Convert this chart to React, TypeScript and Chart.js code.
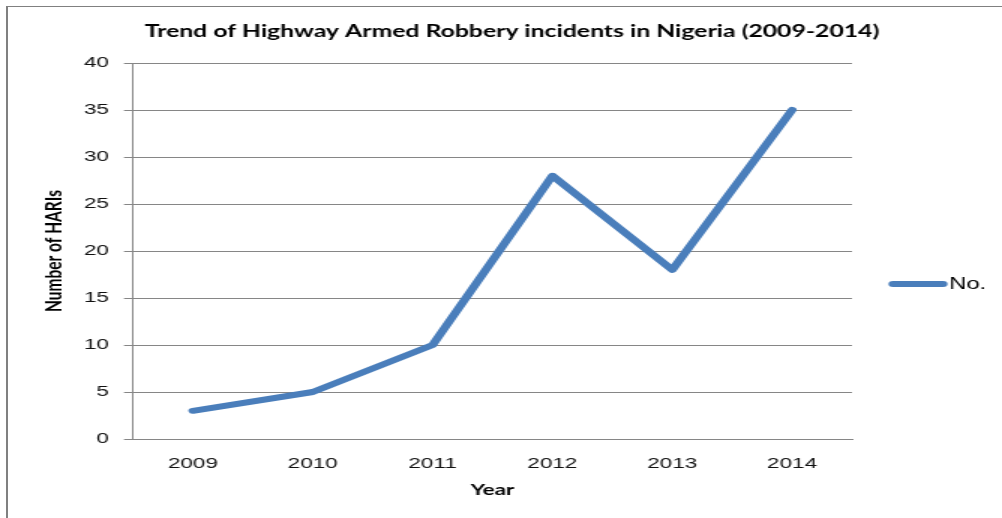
import React, { useEffect, useRef } from 'react';
import { Chart, registerables } from 'chart.js';

Chart.register(...registerables);

// ---- data ----
const years: string[] = ['2009', '2010', '2011', '2012', '2013', '2014'];
const incidents: number[] = [3, 5, 10, 28, 18, 35];
const seriesName = 'No.';
const chartTitle = 'Trend of Highway Armed Robbery incidents in Nigeria (2009-2014)';
const yAxisTitle = 'Number of HARIs';
const xAxisTitle = 'Year';
const yMin = 0;
const yMax = 40;
const yStep = 5;

// ---- layout (the reference image is stretched horizontally) ----
const SX = 1.5;
const PAGE_W = 1002;
const PAGE_H = 518;
const W = Math.round(PAGE_W / SX);
const H = PAGE_H;
const PLOT_LEFT = 133 / SX;
const PLOT_RIGHT = 852 / SX;
const PLOT_TOP = 63;
const PLOT_BOTTOM = 439;
const PAD_LEFT = 27;

const LINE_COLOR = '#4a7ebb';
const GRID_COLOR = '#868686';

const decoPlugin = {
  id: 'deco',
  afterDraw(chart: any) {
    const ctx = chart.ctx as CanvasRenderingContext2D;
    ctx.save();
    // chart title
    ctx.fillStyle = '#000';
    ctx.font = 'bold 16.5px Lato';
    ctx.textAlign = 'center';
    ctx.textBaseline = 'middle';
    ctx.fillText(chartTitle, 512 / SX, 32);
    // legend
    const ds = chart.data.datasets[0];
    const ly = 284;
    ctx.strokeStyle = ds.borderColor;
    ctx.lineWidth = 6;
    ctx.lineCap = 'round';
    ctx.beginPath();
    ctx.moveTo(893 / SX, ly);
    ctx.lineTo(943 / SX, ly);
    ctx.stroke();
    ctx.font = '16px "Liberation Sans"';
    ctx.textAlign = 'left';
    ctx.fillStyle = '#000';
    ctx.fillText(ds.label, 949 / SX, ly + 1);
    ctx.restore();
  },
};

export default function App() {
  const ref = useRef<HTMLCanvasElement>(null);

  useEffect(() => {
    const canvas = ref.current;
    if (!canvas) return;
    const chart = new Chart(canvas, {
      type: 'line',
      data: {
        labels: years,
        datasets: [
          {
            label: seriesName,
            data: incidents,
            borderColor: LINE_COLOR,
            backgroundColor: LINE_COLOR,
            borderWidth: 6,
            borderJoinStyle: 'round',
            borderCapStyle: 'round',
            pointRadius: 0,
            tension: 0,
            fill: false,
          },
        ],
      },
      options: {
        responsive: false,
        animation: false,
        devicePixelRatio: 1,
        layout: {
          padding: { left: PAD_LEFT, right: W - PLOT_RIGHT, top: PLOT_TOP, bottom: 0 },
        },
        plugins: {
          legend: { display: false },
          title: { display: false },
          tooltip: { enabled: false },
        },
        scales: {
          x: {
            type: 'category',
            offset: true,
            grid: { display: false, drawTicks: false },
            border: { display: true, color: GRID_COLOR },
            ticks: {
              font: { family: 'Liberation Sans', size: 15 },
              color: '#111',
              padding: 16,
              maxRotation: 0,
            },
            title: {
              display: true,
              text: xAxisTitle,
              font: { family: 'Lato', size: 15, weight: 'bold' },
              color: '#000',
              padding: { top: 0, bottom: 19 },
            },
            afterFit: (s: any) => {
              s.height = H - PLOT_BOTTOM;
            },
          },
          y: {
            min: yMin,
            max: yMax,
            ticks: {
              stepSize: yStep,
              font: { family: 'Liberation Sans', size: 15 },
              color: '#111',
              padding: 10,
            },
            grid: { color: GRID_COLOR, tickLength: 6, drawTicks: true },
            border: { display: true, color: GRID_COLOR },
            title: {
              display: true,
              text: yAxisTitle,
              font: { family: 'Lato', size: 15.5, weight: 'bold' },
              color: '#000',
              padding: { top: 0, bottom: 0 },
            },
            afterFit: (s: any) => {
              s.width = PLOT_LEFT - PAD_LEFT;
            },
          },
        },
      },
      plugins: [decoPlugin],
    });
    return () => chart.destroy();
  }, []);

  return (
    <div
      style={{
        position: 'absolute',
        left: 0,
        top: 0,
        width: PAGE_W,
        height: PAGE_H,
        overflow: 'hidden',
        background: '#fff',
      }}
    >
      <div
        style={{
          position: 'absolute',
          left: 0,
          top: 0,
          width: W,
          height: H,
          transform: `scaleX(${SX})`,
          transformOrigin: '0 0',
        }}
      >
        <canvas ref={ref} width={W} height={H} style={{ width: W, height: H, display: 'block' }} />
      </div>
      <div style={{ position: 'absolute', left: 6, top: 6, width: 2, height: PAGE_H - 6, background: '#808080' }} />
      <div style={{ position: 'absolute', left: 6, top: 6, width: PAGE_W - 6, height: 1, background: '#808080' }} />
    </div>
  );
}
